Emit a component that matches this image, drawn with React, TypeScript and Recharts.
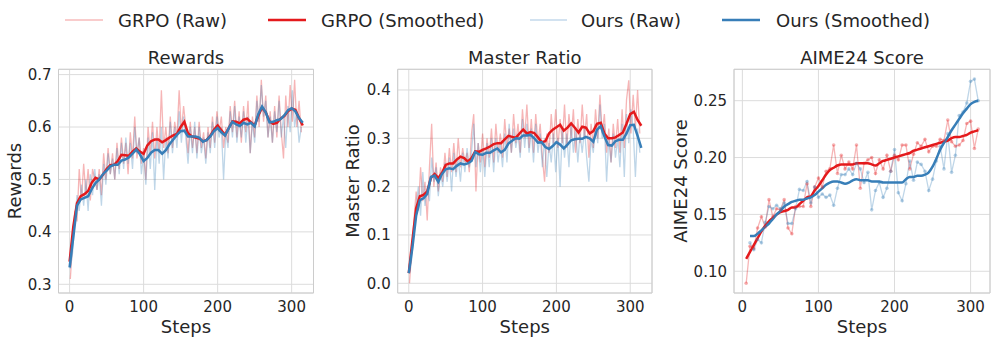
import React from "react";
import { LineChart, Line, XAxis, YAxis, CartesianGrid, ReferenceArea } from "recharts";

const RED = "#e41a1c";
const BLUE = "#377eb8";
const TEXT = "#262626";
const FONT = "'DejaVu Sans', sans-serif";

// x positions
const rawSteps = [
  1, 4, 7, 10, 13, 16, 19, 22, 25, 28, 31, 34, 37, 40, 43, 46, 49, 52, 55, 58, 61, 64, 67, 70, 73, 76, 79, 82, 85, 88,
  91, 94, 97, 100, 103, 106, 109, 112, 115, 118, 121, 124, 127, 130, 133, 136, 139, 142, 145, 148, 151, 154, 157, 160,
  163, 166, 169, 172, 175, 178, 181, 184, 187, 190, 193, 196, 199, 202, 205, 208, 211, 214, 217, 220, 223, 226, 229,
  232, 235, 238, 241, 244, 247, 250, 253, 256, 259, 262, 265, 268, 271, 274, 277, 280, 283, 286, 289, 292, 295, 298,
  301, 304, 307, 310, 313,
];
const smoothSteps = [
  0, 5, 10, 15, 20, 25, 30, 35, 40, 45, 50, 55, 60, 65, 70, 75, 80, 85, 90, 95, 100, 105, 110, 115, 120, 125, 130, 135,
  140, 145, 150, 155, 160, 165, 170, 175, 180, 185, 190, 195, 200, 205, 210, 215, 220, 225, 230, 235, 240, 245, 250,
  255, 260, 265, 270, 275, 280, 285, 290, 295, 300, 305, 310, 315,
];
const aimeGrpoSteps = [
  5, 10, 15, 20, 25, 30, 35, 40, 45, 50, 55, 60, 65, 70, 75, 80, 85, 90, 95, 100, 105, 110, 115, 120, 125, 130, 135,
  140, 145, 150, 155, 160, 165, 170, 175, 180, 185, 190, 195, 200, 205, 210, 215, 220, 225, 230, 235, 240, 245, 250,
  255, 260, 265, 270, 275, 280, 285, 290, 295, 300, 305, 310,
];
const aimeOursSteps = aimeGrpoSteps.slice(1);

// Rewards
const rewardsGrpoRaw = [
  0.31, 0.38, 0.44, 0.42, 0.52, 0.46, 0.53, 0.47, 0.52, 0.46, 0.52, 0.5, 0.48, 0.52, 0.47, 0.55, 0.5, 0.56, 0.51, 0.55,
  0.5, 0.57, 0.52, 0.58, 0.53, 0.57, 0.51, 0.59, 0.54, 0.62, 0.54, 0.58, 0.53, 0.56, 0.5, 0.6, 0.55, 0.61, 0.54, 0.6,
  0.55, 0.67, 0.56, 0.6, 0.55, 0.62, 0.56, 0.61, 0.58, 0.67, 0.59, 0.64, 0.6, 0.55, 0.61, 0.56, 0.6, 0.55, 0.61, 0.56,
  0.59, 0.54, 0.6, 0.56, 0.62, 0.57, 0.63, 0.59, 0.62, 0.56, 0.6, 0.57, 0.64, 0.59, 0.65, 0.58, 0.63, 0.57, 0.64, 0.59,
  0.65, 0.55, 0.62, 0.58, 0.66, 0.6, 0.69, 0.61, 0.66, 0.58, 0.63, 0.57, 0.64, 0.58, 0.66, 0.59, 0.54, 0.66, 0.6, 0.68,
  0.61, 0.69, 0.6, 0.65, 0.59,
];
const rewardsOursRaw = [
  0.33, 0.36, 0.42, 0.47, 0.44, 0.49, 0.45, 0.5, 0.44, 0.51, 0.47, 0.52, 0.48, 0.51, 0.45, 0.53, 0.49, 0.55, 0.51, 0.54,
  0.5, 0.56, 0.51, 0.57, 0.52, 0.58, 0.53, 0.57, 0.52, 0.6, 0.55, 0.58, 0.51, 0.55, 0.49, 0.58, 0.52, 0.59, 0.48, 0.58,
  0.53, 0.6, 0.5, 0.58, 0.54, 0.61, 0.55, 0.6, 0.56, 0.63, 0.57, 0.62, 0.58, 0.53, 0.6, 0.55, 0.61, 0.54, 0.6, 0.55,
  0.58, 0.53, 0.59, 0.55, 0.61, 0.56, 0.62, 0.58, 0.6, 0.5, 0.59, 0.56, 0.63, 0.58, 0.64, 0.57, 0.62, 0.58, 0.63, 0.57,
  0.62, 0.55, 0.61, 0.57, 0.65, 0.61, 0.68, 0.62, 0.65, 0.58, 0.62, 0.57, 0.63, 0.59, 0.65, 0.58, 0.62, 0.56, 0.64,
  0.59, 0.67, 0.6, 0.63, 0.57, 0.6,
];
const rewardsGrpoSmooth = [
  0.343, 0.41, 0.455, 0.468, 0.472, 0.478, 0.494, 0.503, 0.5, 0.509, 0.52, 0.527, 0.528, 0.535, 0.547, 0.546, 0.545,
  0.553, 0.559, 0.553, 0.549, 0.565, 0.573, 0.576, 0.576, 0.571, 0.575, 0.58, 0.584, 0.587, 0.6, 0.61, 0.588, 0.582,
  0.58, 0.578, 0.573, 0.575, 0.583, 0.595, 0.603, 0.594, 0.585, 0.598, 0.611, 0.61, 0.607, 0.614, 0.616, 0.609, 0.603,
  0.622, 0.637, 0.628, 0.611, 0.606, 0.608, 0.616, 0.621, 0.63, 0.635, 0.633, 0.617, 0.603,
];
const rewardsOursSmooth = [
  0.332, 0.39, 0.45, 0.462, 0.465, 0.468, 0.482, 0.493, 0.5, 0.51, 0.517, 0.525, 0.528, 0.528, 0.536, 0.538, 0.542,
  0.549, 0.557, 0.548, 0.535, 0.541, 0.551, 0.556, 0.556, 0.549, 0.556, 0.567, 0.576, 0.585, 0.592, 0.593, 0.582,
  0.582, 0.582, 0.58, 0.572, 0.575, 0.582, 0.592, 0.598, 0.59, 0.584, 0.598, 0.61, 0.605, 0.602, 0.608, 0.605, 0.608,
  0.601, 0.625, 0.639, 0.628, 0.609, 0.61, 0.613, 0.615, 0.622, 0.632, 0.636, 0.63, 0.617, 0.608,
];

// Master Ratio
const masterGrpoRaw = [
  0.0, 0.07, 0.13, 0.19, 0.15, 0.24, 0.17, 0.21, 0.13, 0.24, 0.33, 0.2, 0.25, 0.19, 0.24, 0.21, 0.27, 0.22, 0.28, 0.23,
  0.29, 0.23, 0.3, 0.24, 0.28, 0.25, 0.27, 0.23, 0.31, 0.35, 0.19, 0.29, 0.25, 0.31, 0.24, 0.3, 0.26, 0.32, 0.25, 0.33,
  0.27, 0.31, 0.26, 0.34, 0.28, 0.32, 0.27, 0.35, 0.29, 0.33, 0.27, 0.36, 0.3, 0.37, 0.28, 0.34, 0.27, 0.35, 0.29, 0.33,
  0.26, 0.21, 0.31, 0.27, 0.35, 0.29, 0.36, 0.28, 0.34, 0.29, 0.37, 0.28, 0.35, 0.3, 0.36, 0.27, 0.34, 0.29, 0.37, 0.3,
  0.35, 0.26, 0.33, 0.28, 0.36, 0.3, 0.39, 0.31, 0.35, 0.27, 0.32, 0.25, 0.33, 0.28, 0.34, 0.27, 0.36, 0.28, 0.38, 0.42,
  0.31, 0.39, 0.32, 0.4, 0.31,
];
const masterOursRaw = [
  0.02, 0.05, 0.11, 0.16, 0.2, 0.14, 0.23, 0.16, 0.2, 0.17, 0.26, 0.21, 0.24, 0.18, 0.23, 0.2, 0.25, 0.21, 0.26, 0.19,
  0.27, 0.22, 0.26, 0.21, 0.27, 0.23, 0.28, 0.24, 0.27, 0.33, 0.24, 0.29, 0.23, 0.28, 0.22, 0.29, 0.24, 0.3, 0.23, 0.3,
  0.25, 0.29, 0.24, 0.31, 0.25, 0.33, 0.27, 0.32, 0.28, 0.31, 0.26, 0.34, 0.28, 0.33, 0.27, 0.32, 0.25, 0.33, 0.27, 0.31,
  0.24, 0.3, 0.22, 0.29, 0.25, 0.31, 0.23, 0.3, 0.2, 0.32, 0.26, 0.31, 0.24, 0.33, 0.27, 0.32, 0.25, 0.31, 0.27, 0.32,
  0.26, 0.21, 0.3, 0.27, 0.33, 0.29, 0.37, 0.3, 0.33, 0.21, 0.3, 0.25, 0.31, 0.26, 0.3, 0.24, 0.33, 0.22, 0.35, 0.29,
  0.36, 0.32, 0.22, 0.32, 0.27,
];
const masterGrpoSmooth = [
  0.021, 0.09, 0.155, 0.18, 0.183, 0.19, 0.218, 0.226, 0.218, 0.228, 0.245, 0.248, 0.248, 0.256, 0.262, 0.259, 0.252,
  0.259, 0.273, 0.272, 0.276, 0.279, 0.283, 0.288, 0.29, 0.29, 0.298, 0.305, 0.303, 0.301, 0.31, 0.318, 0.31, 0.313,
  0.311, 0.302, 0.292, 0.294, 0.31, 0.318, 0.323, 0.328, 0.316, 0.322, 0.331, 0.322, 0.312, 0.324, 0.322, 0.31, 0.315,
  0.33, 0.332, 0.31, 0.3, 0.3, 0.302, 0.307, 0.312, 0.33, 0.35, 0.355, 0.338, 0.326,
];
const masterOursSmooth = [
  0.021, 0.075, 0.14, 0.172, 0.176, 0.185, 0.22, 0.223, 0.21, 0.226, 0.236, 0.238, 0.236, 0.243, 0.248, 0.246, 0.248,
  0.253, 0.272, 0.267, 0.266, 0.27, 0.27, 0.275, 0.279, 0.271, 0.276, 0.289, 0.295, 0.3, 0.299, 0.306, 0.306, 0.307,
  0.3, 0.291, 0.292, 0.282, 0.278, 0.284, 0.292, 0.287, 0.279, 0.287, 0.296, 0.298, 0.299, 0.299, 0.303, 0.3, 0.293,
  0.318, 0.325, 0.304, 0.286, 0.285, 0.294, 0.297, 0.297, 0.31, 0.327, 0.328, 0.305, 0.28,
];

// AIME24 Score
const aimeGrpoRaw = [
  0.0895, 0.122, 0.12, 0.138, 0.148, 0.139, 0.163, 0.148, 0.155, 0.154, 0.163, 0.138, 0.133, 0.157, 0.157, 0.157,
  0.177, 0.157, 0.174, 0.182, 0.174, 0.188, 0.19, 0.211, 0.186, 0.202, 0.19, 0.196, 0.19, 0.211, 0.173, 0.195, 0.198,
  0.2, 0.186, 0.198, 0.19, 0.202, 0.188, 0.202, 0.198, 0.211, 0.211, 0.19, 0.203, 0.213, 0.21, 0.216, 0.205, 0.21,
  0.21, 0.216, 0.215, 0.233, 0.214, 0.21, 0.211, 0.215, 0.23, 0.232, 0.208, 0.225,
];
const aimeOursRaw = [
  0.125, 0.119, 0.128, 0.125, 0.143, 0.157, 0.155, 0.158, 0.155, 0.16, 0.142, 0.142, 0.155, 0.172, 0.171, 0.179, 0.16,
  0.174, 0.165, 0.168, 0.165, 0.167, 0.158, 0.173, 0.185, 0.185, 0.19, 0.185, 0.195, 0.19, 0.178, 0.187, 0.154, 0.171,
  0.178, 0.165, 0.173, 0.188, 0.207, 0.169, 0.162, 0.177, 0.197, 0.18, 0.196, 0.194, 0.188, 0.171, 0.181, 0.197, 0.21,
  0.19, 0.221, 0.187, 0.202, 0.237, 0.24, 0.248, 0.267, 0.269, 0.25,
];
const aimeGrpoSmooth = [
  0.111, 0.117, 0.123, 0.129, 0.135, 0.14, 0.144, 0.147, 0.15, 0.152, 0.153, 0.154, 0.156, 0.156, 0.159, 0.162, 0.165,
  0.166, 0.171, 0.175, 0.18, 0.185, 0.189, 0.191, 0.193, 0.194, 0.194, 0.194, 0.194, 0.195, 0.195, 0.195, 0.195, 0.194,
  0.193, 0.195, 0.197, 0.198, 0.199, 0.2, 0.201, 0.202, 0.203, 0.204, 0.206, 0.207, 0.208, 0.209, 0.21, 0.211, 0.212,
  0.213, 0.214, 0.215, 0.217, 0.218, 0.218, 0.219, 0.22, 0.222, 0.223, 0.224,
];
const aimeOursSmooth = [
  0.131, 0.131, 0.133, 0.136, 0.139, 0.142, 0.146, 0.15, 0.153, 0.157, 0.159, 0.161, 0.162, 0.163, 0.163, 0.164, 0.165,
  0.167, 0.17, 0.173, 0.176, 0.178, 0.179, 0.179, 0.178, 0.177, 0.178, 0.18, 0.181, 0.18, 0.18, 0.18, 0.179, 0.179,
  0.179, 0.178, 0.178, 0.178, 0.178, 0.178, 0.178, 0.181, 0.183, 0.183, 0.184, 0.184, 0.185, 0.187, 0.192, 0.199, 0.207,
  0.213, 0.218, 0.224, 0.229, 0.234, 0.239, 0.243, 0.247, 0.249, 0.25,
];

const stepTicks = [0, 100, 200, 300];

const zip = (xs: number[], ys: number[]) => xs.map((step, i) => ({ step, value: ys[i] }));

type Series = {
  id: string;
  data: { step: number; value: number }[];
  color: string;
  raw: boolean;
  dots?: boolean;
  curve?: "linear" | "monotone";
};

interface PanelProps {
  left: number;
  right: number;
  xDomain: [number, number];
  yDomain: [number, number];
  yTicks: number[];
  digits: number;
  series: Series[];
}

const Y_AXIS_W = 50;
const X_AXIS_H = 30;

function Panel({ left, right, xDomain, yDomain, yTicks, digits, series }: PanelProps) {
  const width = right + 4;
  const tick = { fontSize: 15, fill: TEXT, fontFamily: FONT };
  return (
    <div style={{ position: "absolute", left: 0, top: 0 }}>
      <LineChart
        width={width}
        height={343}
        margin={{ top: 69.3, bottom: 50 - X_AXIS_H, left: left - Y_AXIS_W, right: width - right }}
      >
        <CartesianGrid stroke="#dcdcdc" strokeWidth={1} />
        <XAxis
          type="number"
          dataKey="step"
          domain={xDomain}
          ticks={stepTicks}
          allowDataOverflow
          height={X_AXIS_H}
          tickSize={0}
          tickMargin={8}
          axisLine={false}
          tickLine={false}
          tick={tick}
        />
        <YAxis
          type="number"
          domain={yDomain}
          ticks={yTicks}
          allowDataOverflow
          width={Y_AXIS_W}
          tickSize={0}
          tickMargin={7}
          axisLine={false}
          tickLine={false}
          tick={tick}
          tickFormatter={(v: number) => v.toFixed(digits)}
        />
        <ReferenceArea
          x1={xDomain[0]}
          x2={xDomain[1]}
          y1={yDomain[0]}
          y2={yDomain[1]}
          fill="none"
          stroke="#cccccc"
          strokeWidth={1}
          ifOverflow="visible"
        />
        {series.map((s) => (
          <Line
            key={s.id}
            data={s.data}
            dataKey="value"
            type={s.curve ?? "linear"}
            stroke={s.color}
            strokeOpacity={s.raw ? 0.32 : 1}
            strokeWidth={s.raw ? 1.3 : 2.5}
            dot={s.dots ? { r: 1.8, fill: s.color, fillOpacity: 0.35, stroke: "none" } : false}
            activeDot={false}
            isAnimationActive={false}
          />
        ))}
      </LineChart>
    </div>
  );
}

const legendItems = [
  { label: "GRPO (Raw)", color: RED, raw: true, x1: 65, x2: 103, tx: 118 },
  { label: "GRPO (Smoothed)", color: RED, raw: false, x1: 268, x2: 306, tx: 321 },
  { label: "Ours (Raw)", color: BLUE, raw: true, x1: 530, x2: 567, tx: 581 },
  { label: "Ours (Smoothed)", color: BLUE, raw: false, x1: 722, x2: 760, tx: 776 },
];

export default function App() {
  return (
    <div style={{ position: "absolute", left: 0, top: 0, width: 996, height: 343, background: "#fff" }}>
      <Panel
        left={58.5}
        right={313.5}
        xDomain={[-15, 329.5]}
        yDomain={[0.2834, 0.7101]}
        yTicks={[0.3, 0.4, 0.5, 0.6, 0.7]}
        digits={1}
        series={[
          { id: "gr", data: zip(rawSteps, rewardsGrpoRaw), color: RED, raw: true },
          { id: "or", data: zip(rawSteps, rewardsOursRaw), color: BLUE, raw: true },
          { id: "gs", data: zip(smoothSteps, rewardsGrpoSmooth), color: RED, raw: false },
          { id: "os", data: zip(smoothSteps, rewardsOursSmooth), color: BLUE, raw: false },
        ]}
      />
      <Panel
        left={397.7}
        right={652}
        xDomain={[-15, 329.5]}
        yDomain={[-0.0201, 0.4428]}
        yTicks={[0, 0.1, 0.2, 0.3, 0.4]}
        digits={1}
        series={[
          { id: "gr", data: zip(rawSteps, masterGrpoRaw), color: RED, raw: true },
          { id: "or", data: zip(rawSteps, masterOursRaw), color: BLUE, raw: true },
          { id: "gs", data: zip(smoothSteps, masterGrpoSmooth), color: RED, raw: false },
          { id: "os", data: zip(smoothSteps, masterOursSmooth), color: BLUE, raw: false },
        ]}
      />
      <Panel
        left={734}
        right={990}
        xDomain={[-11, 325.5]}
        yDomain={[0.0809, 0.2776]}
        yTicks={[0.1, 0.15, 0.2, 0.25]}
        digits={2}
        series={[
          { id: "gr", data: zip(aimeGrpoSteps, aimeGrpoRaw), color: RED, raw: true, dots: true },
          { id: "or", data: zip(aimeOursSteps, aimeOursRaw), color: BLUE, raw: true, dots: true },
          { id: "gs", data: zip(aimeGrpoSteps, aimeGrpoSmooth), color: RED, raw: false, curve: "monotone" },
          { id: "os", data: zip(aimeOursSteps, aimeOursSmooth), color: BLUE, raw: false, curve: "monotone" },
        ]}
      />
      <svg
        width={996}
        height={343}
        style={{ position: "absolute", left: 0, top: 0, pointerEvents: "none" }}
        fontFamily={FONT}
        fill={TEXT}
      >
        {legendItems.map((it) => (
          <g key={it.label}>
            <line
              x1={it.x1}
              x2={it.x2}
              y1={20}
              y2={20}
              stroke={it.color}
              strokeOpacity={it.raw ? 0.3 : 1}
              strokeWidth={it.raw ? 1.5 : 2.5}
            />
            <text x={it.tx} y={26.5} fontSize={18}>
              {it.label}
            </text>
          </g>
        ))}
        {[
          { cx: 186, title: "Rewards", yl: 20.7 },
          { cx: 524.8, title: "Master Ratio", yl: 359.3 },
          { cx: 862, title: "AIME24 Score", yl: 686.7 },
        ].map((p) => (
          <g key={p.title}>
            <text x={p.cx} y={64} fontSize={18} textAnchor="middle">
              {p.title}
            </text>
            <text x={p.cx} y={333} fontSize={18} textAnchor="middle">
              Steps
            </text>
            <text transform={`translate(${p.yl},181) rotate(-90)`} fontSize={18} textAnchor="middle">
              {p.title}
            </text>
          </g>
        ))}
      </svg>
    </div>
  );
}
